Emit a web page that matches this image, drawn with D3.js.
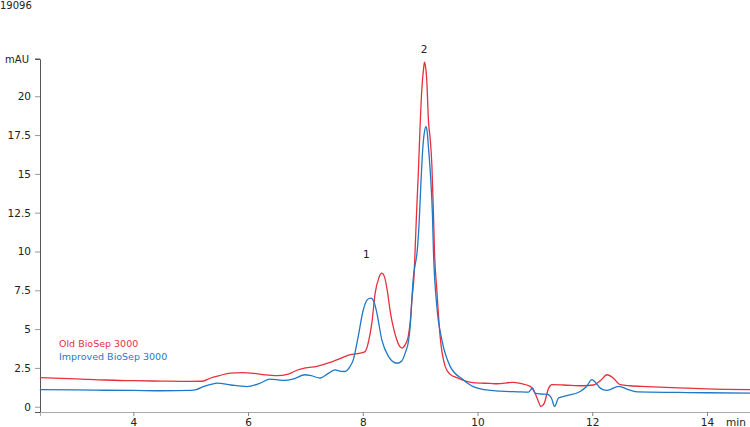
<html>
<head>
<style>
  body { margin: 0; background: #fff; }
  svg text { font-family: "DejaVu Sans", Verdana, sans-serif; fill: #222; }
  .trace { fill: none; stroke-width: 1.3; }
</style>
</head>
<body>
<svg id="chart" width="750" height="427"></svg>
<script src="https://d3js.org/d3.v7.min.js"></script>
<script>
// run id shown top-left
const runId = "19096"

// Old BioSep 3000 trace (min, mAU)
const oldTime = [2.37, 3.0, 3.5, 4.0, 4.5, 5.0, 5.2, 5.35, 5.5, 5.69, 5.9, 6.1, 6.3, 6.5, 6.7, 6.85, 7.0, 7.2, 7.43, 7.6, 7.78, 7.95, 8.04,
  8.1, 8.158, 8.215, 8.28, 8.33, 8.38, 8.43, 8.48, 8.54, 8.594, 8.64, 8.681, 8.74, 8.791, 8.83, 8.856, 8.896, 8.913, 8.943, 8.97,
  9.0, 9.03, 9.06, 9.075, 9.09, 9.117, 9.145, 9.174, 9.204, 9.232, 9.25, 9.291, 9.349, 9.436, 9.52, 9.64, 9.924, 10.22, 10.34,
  10.62, 10.75, 10.918, 11.0, 11.06, 11.105, 11.16, 11.24, 11.3, 11.5, 11.843, 12.022, 12.15, 12.256, 12.35, 12.488, 12.662,
  12.954, 13.5, 14.0, 14.75]
const oldAbs = [1.87, 1.8, 1.72, 1.68, 1.65, 1.63, 1.64, 1.85, 2.0, 2.17, 2.2, 2.15, 2.05, 2.0, 2.1, 2.35, 2.5, 2.6, 2.85, 3.1, 3.35, 3.45, 3.55,
  4.2, 5.4, 7.3, 8.3, 8.6, 8.35, 7.4, 6.1, 5.0, 4.3, 3.9, 3.78, 4.0, 4.5, 5.6, 6.9, 8.6, 10.2, 13.0, 15.2,
  18.2, 20.5, 21.8, 22.2, 22.0, 20.9, 18.4, 17.3, 15.6, 12.4, 10.0, 7.5, 4.5, 2.6, 2.1, 1.87, 1.55, 1.5, 1.48,
  1.57, 1.5, 1.31, 0.9, 0.35, 0.02, 0.2, 1.2, 1.42, 1.4, 1.35, 1.4, 1.7, 2.06, 1.9, 1.42, 1.35,
  1.3, 1.22, 1.15, 1.1]

// Improved BioSep 3000 trace (min, mAU)
const newTime = [2.37, 3.0, 3.5, 4.0, 4.5, 5.0, 5.1, 5.22, 5.37, 5.46, 5.7, 5.98, 6.2, 6.384, 6.6, 6.8, 6.99, 7.1, 7.256, 7.4, 7.518, 7.62,
  7.692, 7.779, 7.832, 7.919, 8.006, 8.08, 8.14, 8.2, 8.245, 8.332, 8.447, 8.594, 8.68, 8.739, 8.8, 8.826, 8.878, 8.955, 8.983,
  9.012, 9.047, 9.075, 9.1, 9.12, 9.145, 9.187, 9.214, 9.232, 9.291, 9.379, 9.523, 9.75, 9.924, 10.221, 10.4, 10.7, 10.89, 10.96,
  11.0, 11.1, 11.22, 11.29, 11.343, 11.412, 11.558, 11.79, 11.9, 11.994, 12.06, 12.14, 12.256, 12.46, 12.63, 12.8, 13.5, 14.0, 14.75]
const newAbs = [1.1, 1.08, 1.06, 1.05, 1.03, 1.05, 1.1, 1.3, 1.46, 1.52, 1.4, 1.3, 1.5, 1.78, 1.7, 1.8, 2.06, 2.0, 1.85, 2.15, 2.38, 2.28,
  2.27, 2.6, 3.0, 4.5, 6.2, 6.9, 7.0, 6.7, 6.05, 4.3, 3.24, 2.8, 2.95, 3.45, 4.3, 5.17, 8.2, 10.3, 11.9,
  14.3, 16.7, 17.7, 18.05, 17.8, 16.7, 14.5, 12.4, 10.0, 6.46, 4.3, 2.6, 1.74, 1.3, 1.05, 1.0, 0.96, 0.94, 1.22,
  0.88, 0.82, 0.8, 0.55, 0.02, 0.56, 0.71, 0.98, 1.3, 1.74, 1.55, 1.2, 1.05, 1.31, 1.1, 0.95, 0.92, 0.9, 0.88]

const seriesNames = ["Old BioSep 3000", "Improved BioSep 3000"]
const seriesColors = ["#e8303c", "#1f78c8"]

const xTicks = [4, 6, 8, 10, 12, 14]
const yTicks = [0, 2.5, 5, 7.5, 10, 12.5, 15, 17.5, 20]

// peak labels: [time, label]
const peakTime = [8.13, 9.14]
const peakNames = ["1", "2"]
const peakHeight = [8.6 + 1.0, 22.2 + 0.6]

const svg = d3.select("#chart")

const xScale = d3.scaleLinear().domain([2.373, 14.75]).range([40, 750])
const yScale = d3.scaleLinear().domain([-0.34, 22.4]).range([412, 59])

// top-left id
svg.append("text")
    .attr("x", 0).attr("y", 9)
    .attr("font-size", 10)
    .text(runId)

// y axis
let yAxis = svg.append("g")
    .attr("transform", "translate(40,0)")
    .call(d3.axisLeft(yScale).tickValues(yTicks).tickSize(5).tickPadding(4).tickFormat(d => String(d)))
yAxis.select(".domain").attr("stroke", "#555")
yAxis.selectAll(".tick line").attr("stroke", "#999")
yAxis.selectAll(".tick text").attr("font-size", 10.5).attr("fill", "#222")

// mAU unit at the top of the y axis
svg.append("line")
    .attr("x1", 35).attr("x2", 40)
    .attr("y1", yScale(22.4)).attr("y2", yScale(22.4))
    .attr("stroke", "#555")
svg.append("text")
    .attr("x", 29).attr("y", yScale(22.4) + 4)
    .attr("text-anchor", "end")
    .attr("font-size", 10)
    .text("mAU")

// x axis
let xAxis = svg.append("g")
    .attr("transform", "translate(0,412)")
    .call(d3.axisBottom(xScale).tickValues(xTicks).tickSize(4).tickPadding(3).tickFormat(d => String(d)))
xAxis.select(".domain").attr("stroke", "#aaa")
xAxis.selectAll(".tick line").attr("stroke", "#888")
xAxis.selectAll(".tick text").attr("font-size", 10.5).attr("fill", "#222")

svg.append("text")
    .attr("x", 736).attr("y", 426)
    .attr("text-anchor", "middle")
    .attr("font-size", 10.5)
    .text("min")

// traces
const line = d3.line()
    .x(d => xScale(d[0]))
    .y(d => yScale(d[1]))
    .curve(d3.curveMonotoneX)

const oldData = oldTime.map((t, i) => [t, oldAbs[i]])
const newData = newTime.map((t, i) => [t, newAbs[i]])

svg.append("path")
    .datum(oldData)
    .attr("class", "trace")
    .attr("stroke", seriesColors[0])
    .attr("d", line)

svg.append("path")
    .datum(newData)
    .attr("class", "trace")
    .attr("stroke", seriesColors[1])
    .attr("d", line)

// legend
seriesNames.forEach((name, i) => {
    svg.append("text")
        .attr("x", 59).attr("y", 347 + i * 13)
        .attr("font-size", 9.5)
        .style("fill", seriesColors[i])
        .text(name)
})

// peak numbers
peakNames.forEach((p, i) => {
    svg.append("text")
        .attr("x", xScale(peakTime[i]) - 4)
        .attr("y", yScale(peakHeight[i]))
        .attr("text-anchor", "middle")
        .attr("font-size", 10.5)
        .attr("fill", "#333")
        .text(p)
})
</script>
</body>
</html>
